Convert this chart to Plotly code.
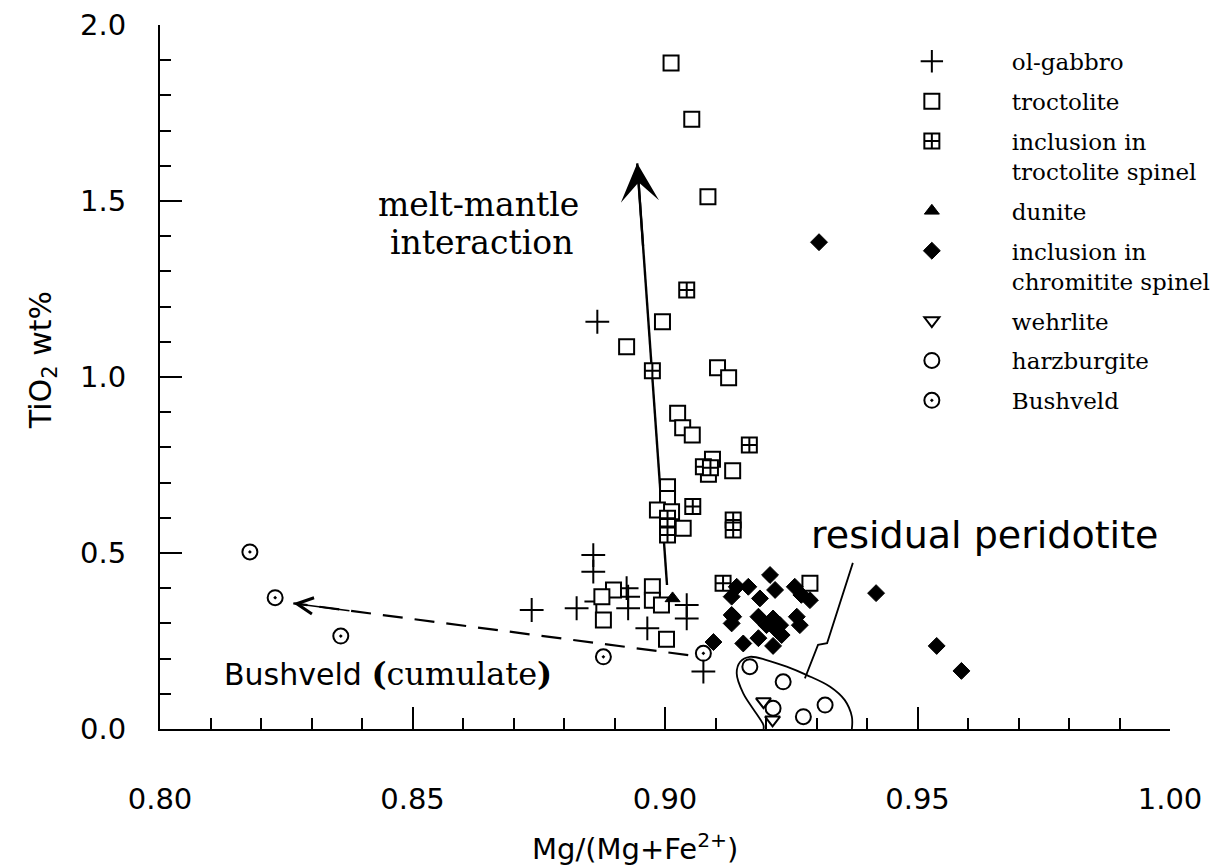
import plotly.graph_objects as go

# ---------------- data ----------------
ol_gabbro_x = [0.8866, 0.8858, 0.8858, 0.8736, 0.8825, 0.8864, 0.8924, 0.8927, 0.8927, 0.8965, 0.9043, 0.9043, 0.9076]
ol_gabbro_y = [1.157, 0.494, 0.447, 0.338, 0.343, 0.362, 0.400, 0.376, 0.343, 0.286, 0.352, 0.314, 0.163]

troctolite_x = [0.9012, 0.9053, 0.9085, 0.8995, 0.8924, 0.9104, 0.9126, 0.9025, 0.9035, 0.9054,
                0.9094, 0.9086, 0.9134, 0.9005, 0.9005, 0.8985, 0.9013, 0.9036, 0.9287, 0.8898,
                0.8875, 0.8878, 0.8975, 0.8975, 0.8993, 0.9003]
troctolite_y = [1.892, 1.732, 1.512, 1.157, 1.086, 1.026, 0.998, 0.897, 0.856, 0.835,
                0.766, 0.724, 0.734, 0.688, 0.655, 0.622, 0.617, 0.570, 0.414, 0.395,
                0.376, 0.310, 0.404, 0.366, 0.352, 0.255]

incl_troct_x = [0.9043, 0.8975, 0.9167, 0.9076, 0.9090, 0.9005, 0.9005, 0.9005, 0.9055, 0.9135, 0.9135, 0.9115]
incl_troct_y = [1.247, 1.018, 0.807, 0.745, 0.742, 0.599, 0.575, 0.551, 0.632, 0.594, 0.565, 0.414]

dunite_x = [0.9015]
dunite_y = [0.371]

incl_chrom_x = [0.9305, 0.9096, 0.9132, 0.9132, 0.9132, 0.9142, 0.9165, 0.9208, 0.9218, 0.9188,
                0.9257, 0.9287, 0.9270, 0.9135, 0.9185, 0.9214, 0.9228, 0.9201, 0.9221, 0.9261,
                0.9267, 0.9155, 0.9185, 0.9214, 0.9231, 0.9418, 0.9538, 0.9587]
incl_chrom_y = [1.383, 0.247, 0.376, 0.324, 0.300, 0.404, 0.404, 0.4375, 0.395, 0.371,
                0.404, 0.366, 0.381, 0.319, 0.319, 0.314, 0.295, 0.295, 0.281, 0.319,
                0.295, 0.243, 0.258, 0.236, 0.267, 0.386, 0.236, 0.165]

wehrlite_x = [0.9195, 0.9213]
wehrlite_y = [0.078, 0.026]

harzburgite_x = [0.9168, 0.9234, 0.9214, 0.9274, 0.9317]
harzburgite_y = [0.177, 0.134, 0.059, 0.035, 0.068]

bushveld_x = [0.8178, 0.8228, 0.8358, 0.8878, 0.9076]
bushveld_y = [0.503, 0.373, 0.264, 0.205, 0.215]

# guide lines (data coordinates)
melt_arrow_x = [0.9004, 0.8945]      # tail, head
melt_arrow_y = [0.409, 1.607]
bush_arrow_x = [0.9046, 0.8264]      # tail, head
bush_arrow_y = [0.210, 0.357]
residual_field_x = [0.9195, 0.9195, 0.9155, 0.9142, 0.9149, 0.9168, 0.9201, 0.9241, 0.9281, 0.9327, 0.9356, 0.9370, 0.9370]
residual_field_y = [0.0, 0.011, 0.101, 0.158, 0.191, 0.205, 0.196, 0.177, 0.153, 0.120, 0.082, 0.035, 0.0]
residual_pointer_x = [0.9372, 0.9321, 0.9303, 0.9277]
residual_pointer_y = [0.472, 0.244, 0.239, 0.144]

x_ticks = [0.80, 0.85, 0.90, 0.95, 1.00]
x_ticktext = ["0.80", "0.85", "0.90", "0.95", "1.00"]
y_ticks = [0.0, 0.5, 1.0, 1.5, 2.0]
y_ticktext = ["0.0", "0.5", "1.0", "1.5", "2.0"]

# ---------------- figure ----------------
SANS = "DejaVu Sans"
SERIF = "DejaVu Serif"
LW = 2

fig = go.Figure()

# guide lines drawn first (beneath markers)
fig.add_trace(go.Scatter(x=residual_field_x, y=residual_field_y, mode="lines",
                         line=dict(color="black", width=1.8, shape="spline", smoothing=1.0),
                         showlegend=False, hoverinfo="skip", cliponaxis=False))
fig.add_trace(go.Scatter(x=residual_pointer_x, y=residual_pointer_y, mode="lines",
                         line=dict(color="black", width=1.8),
                         showlegend=False, hoverinfo="skip"))
fig.add_trace(go.Scatter(x=bush_arrow_x, y=bush_arrow_y, mode="lines",
                         line=dict(color="black", width=2.2, dash="20px,12px"),
                         showlegend=False, hoverinfo="skip"))
fig.add_trace(go.Scatter(x=melt_arrow_x, y=melt_arrow_y, mode="lines",
                         line=dict(color="black", width=2.4),
                         showlegend=False, hoverinfo="skip"))

def add_series(name, xs, ys, symbol, size, color, lcolor="black", lw=LW):
    fig.add_trace(go.Scatter(
        x=xs, y=ys, mode="markers", name=name, legendgroup=name,
        marker=dict(symbol=symbol, size=size, color=color,
                    line=dict(color=lcolor, width=lw)),
        cliponaxis=False))

add_series("ol-gabbro", ol_gabbro_x, ol_gabbro_y, "cross-thin-open", 17, "black")
add_series("troctolite", troctolite_x, troctolite_y, "square", 15, "white")
add_series("inclusion in<br>troctolite spinel", incl_troct_x, incl_troct_y, "square-cross", 15, "white")
add_series("dunite", dunite_x, dunite_y, "triangle-up", 13, "black", lw=1)
add_series("inclusion in<br>chromitite spinel", incl_chrom_x, incl_chrom_y, "diamond", 13, "black", lw=1)
add_series("wehrlite", wehrlite_x, wehrlite_y, "triangle-down-open", 13, "black")
add_series("harzburgite", harzburgite_x, harzburgite_y, "circle", 15, "white")
add_series("Bushveld", bushveld_x, bushveld_y, "circle-open-dot", 15, "black")

# arrow-head helper positions along the guide lines
melt_head_tail_x = melt_arrow_x[1] + (melt_arrow_x[0] - melt_arrow_x[1]) * 0.2
melt_head_tail_y = melt_arrow_y[1] + (melt_arrow_y[0] - melt_arrow_y[1]) * 0.2
bush_head_tail_x = bush_arrow_x[1] + (bush_arrow_x[0] - bush_arrow_x[1]) * 0.146
bush_head_tail_y = bush_arrow_y[1] + (bush_arrow_y[0] - bush_arrow_y[1]) * 0.146

annotations = [
    dict(x=melt_arrow_x[1], y=melt_arrow_y[1], ax=melt_head_tail_x, ay=melt_head_tail_y,
         xref="x", yref="y", axref="x", ayref="y", text="", showarrow=True,
         arrowhead=3, arrowsize=2.9, arrowwidth=2.2, arrowcolor="black", standoff=0),
    dict(x=bush_arrow_x[1], y=bush_arrow_y[1], ax=bush_head_tail_x, ay=bush_head_tail_y,
         xref="x", yref="y", axref="x", ayref="y", text="", showarrow=True,
         arrowhead=5, arrowsize=2.0, arrowwidth=1.6, arrowcolor="black", standoff=0),
    dict(x=0.8630, y=1.489, xref="x", yref="y", text="melt-mantle", showarrow=False,
         font=dict(family=SERIF, size=33, color="black")),
    dict(x=0.8636, y=1.381, xref="x", yref="y", text="interaction", showarrow=False,
         font=dict(family=SERIF, size=33, color="black")),
    dict(x=0.9632, y=0.551, xref="x", yref="y", text="residual peridotite", showarrow=False,
         font=dict(family=SANS, size=38, color="black")),
    dict(x=0.8123, y=0.156, xref="x", yref="y", xanchor="left", yanchor="middle",
         text="Bushveld <span style='font-family:DejaVu Serif;font-size:32px'><b>(</b>cumulate<b>)</b></span>",
         showarrow=False, font=dict(family=SANS, size=30, color="black")),
    dict(x=-0.1168, y=0.524, xref="paper", yref="paper", xanchor="center", yanchor="middle",
         text="TiO<sub>2</sub> wt%", textangle=-90, showarrow=False,
         font=dict(family=SANS, size=30, color="black")),
    dict(x=0.470, y=-0.1676, xref="paper", yref="paper", xanchor="center", yanchor="middle",
         text="Mg/(Mg+Fe<sup>2+</sup>)", showarrow=False,
         font=dict(family=SANS, size=29, color="black")),
]

axis_common = dict(showgrid=False, zeroline=False, showline=True, linecolor="black", linewidth=2,
                   ticks="inside", tickcolor="black", tickwidth=1.5, ticklen=22,
                   automargin=False,
                   tickfont=dict(family=SANS, size=29, color="black"))

# page body has an 8px margin: shrink figure so the plot sits where the reference has it
fig.update_layout(
    width=1224, height=857,
    margin=dict(l=152, r=62, t=17, b=136),
    paper_bgcolor="white", plot_bgcolor="white",
    xaxis=dict(range=[0.80, 1.00], tickmode="array", tickvals=x_ticks, ticktext=x_ticktext,
               ticklabelstandoff=43,
               minor=dict(ticks="inside", ticklen=11, tickwidth=1.5, tickcolor="black",
                          tickmode="linear", tick0=0.80, dtick=0.01),
               **axis_common),
    yaxis=dict(range=[0.0, 2.0], tickmode="array", tickvals=y_ticks, ticktext=y_ticktext,
               ticklabelstandoff=26,
               minor=dict(ticks="inside", ticklen=11, tickwidth=1.5, tickcolor="black",
                          tickmode="linear", tick0=0.0, dtick=0.1),
               **axis_common),
    legend=dict(x=0.685, y=0.979, xanchor="left", yanchor="top",
                bgcolor="rgba(0,0,0,0)", borderwidth=0,
                font=dict(family=SERIF, size=23, color="black"),
                itemwidth=150, valign="top", traceorder="grouped", tracegroupgap=7),
    annotations=annotations,
    showlegend=True,
)

fig.write_html("out.html")
